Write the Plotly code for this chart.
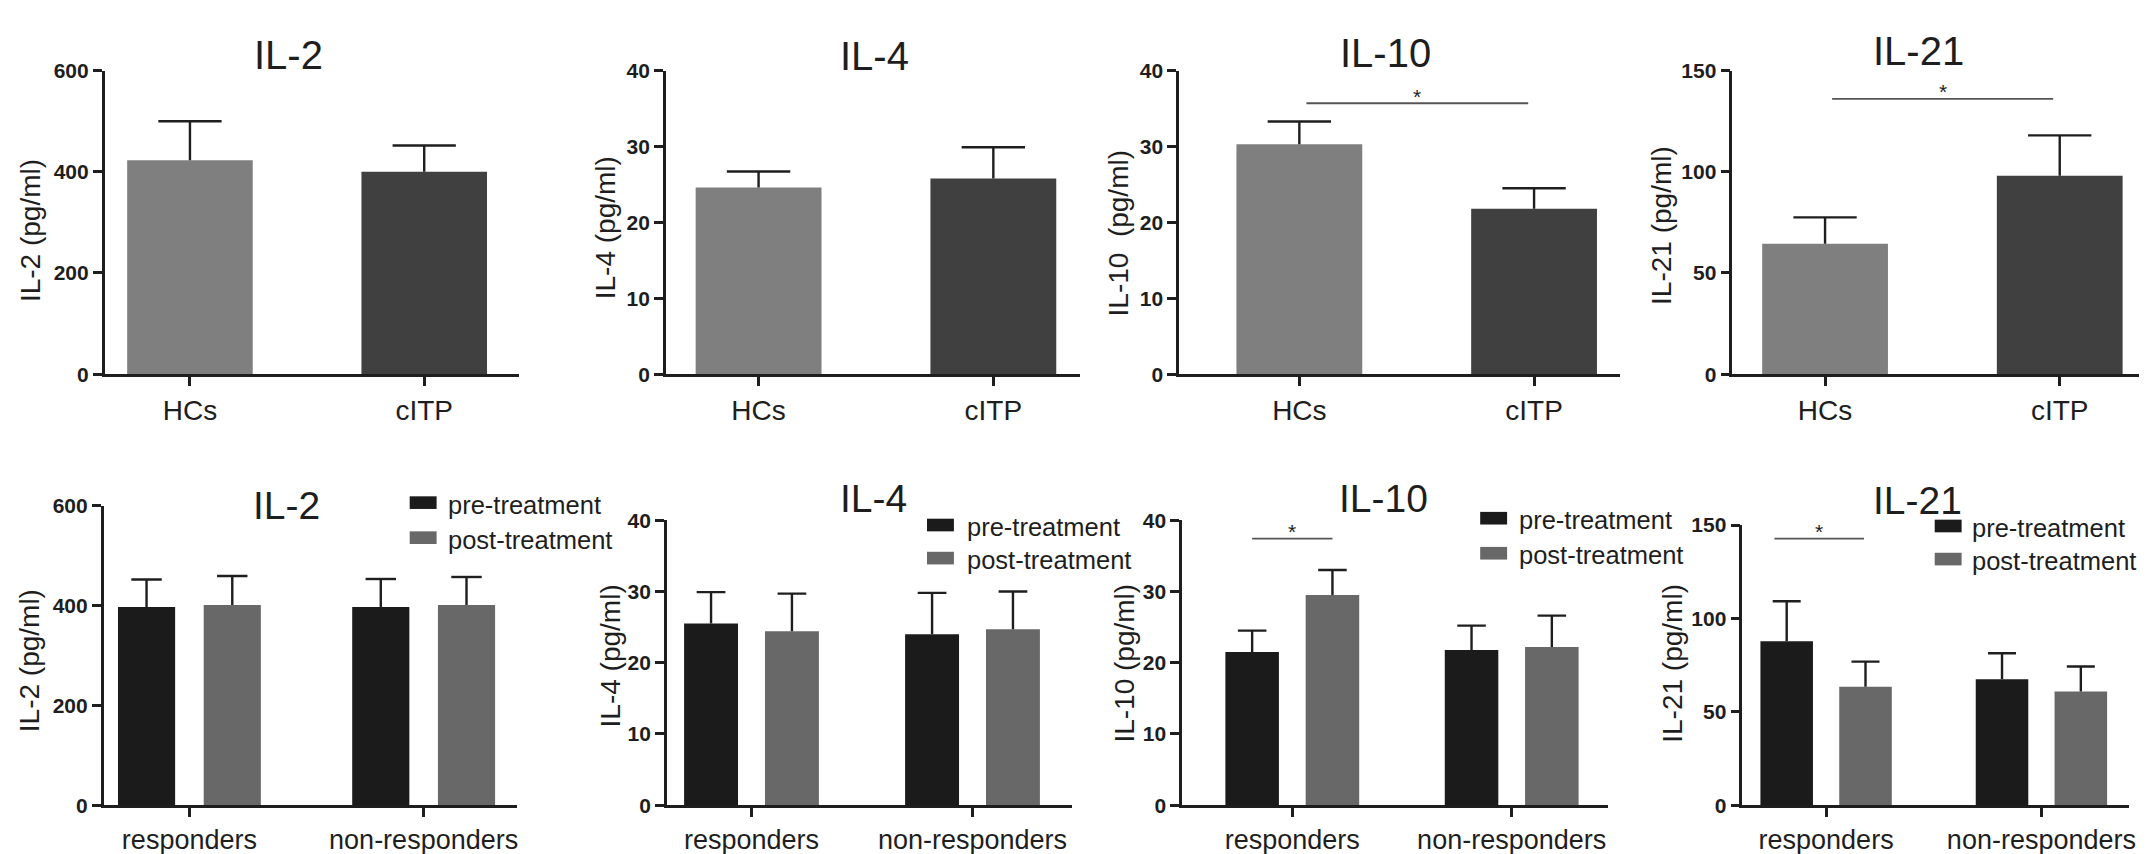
import plotly.graph_objects as go

W, H = 2150, 854

# ---- data ----
groups_top = ["HCs", "cITP"]
il2_top = [423, 400]
il2_top_err = [77, 52]
il4_top = [24.6, 25.8]
il4_top_err = [2.1, 4.1]
il10_top = [30.3, 21.8]
il10_top_err = [3.0, 2.7]
il21_top = [64.5, 98]
il21_top_err = [13, 20]

groups_bottom = ["responders", "non-responders"]
series_bottom = ["pre-treatment", "post-treatment"]
il2_pre = [397, 397]
il2_pre_err = [55, 56]
il2_post = [401, 401]
il2_post_err = [58, 56]
il4_pre = [25.5, 24.0]
il4_pre_err = [4.4, 5.8]
il4_post = [24.4, 24.7]
il4_post_err = [5.3, 5.3]
il10_pre = [21.5, 21.8]
il10_pre_err = [3.0, 3.4]
il10_post = [29.5, 22.2]
il10_post_err = [3.5, 4.4]
il21_pre = [87.8, 67.5]
il21_pre_err = [21.4, 13.9]
il21_post = [63.5, 60.9]
il21_post_err = [13.4, 13.4]

top_colors = ["#7f7f7f", "#404040"]
bottom_colors = ["#1b1b1b", "#686868"]
ink = "#1e1e1e"
FONT = "Liberation Sans, Arial, sans-serif"


def fx(p):
    return p / W


def fy(p):
    return 1 - p / H


# panel layout in pixels: x axis start/end, y of top tick / zero, x range
panels = [
    dict(title="IL-2", ytitle="IL-2 (pg/ml)", ymax=600, dtick=200, px=(97, 513), py=(52, 364),
         xr=(-0.364, 1.406), tpos=(281, 36), ypos=(22, 216),
         bars=[(groups_top, il2_top, il2_top_err, top_colors)]),
    dict(title="IL-4", ytitle="IL-4 (pg/ml)", ymax=40, dtick=10, px=(660, 1075), py=(52, 364),
         xr=(-0.395, 1.367), tpos=(869, 37), ypos=(599, 214),
         bars=[(groups_top, il4_top, il4_top_err, top_colors)]),
    dict(title="IL-10", ytitle="IL-10\u00a0 (pg/ml)", ymax=40, dtick=10, px=(1175, 1617), py=(52, 364),
         xr=(-0.512, 1.365), tpos=(1382, 34), ypos=(1114, 219),
         bars=[(groups_top, il10_top, il10_top_err, top_colors)]),
    dict(title="IL-21", ytitle="IL-21 (pg/ml)", ymax=150, dtick=50, px=(1730, 2138), py=(52, 364),
         xr=(-0.395, 1.338), tpos=(1917, 32), ypos=(1659, 211),
         bars=[(groups_top, il21_top, il21_top_err, top_colors)]),
    dict(title="IL-2", ytitle="IL-2 (pg/ml)", ymax=600, dtick=200, px=(96, 511), py=(499, 807),
         xr=(-0.366, 1.40), tpos=(279, 499), ypos=(21, 658), legend=(403, 439, 496, 532),
         bars=[(groups_bottom, il2_pre, il2_pre_err, bottom_colors[0]),
               (groups_bottom, il2_post, il2_post_err, bottom_colors[1])]),
    dict(title="IL-4", ytitle="IL-4 (pg/ml)", ymax=40, dtick=10, px=(661, 1067), py=(514, 807),
         xr=(-0.383, 1.448), tpos=(868, 492), ypos=(604, 654), legend=(922, 960, 519, 553),
         bars=[(groups_bottom, il4_pre, il4_pre_err, bottom_colors[0]),
               (groups_bottom, il4_post, il4_post_err, bottom_colors[1])]),
    dict(title="IL-10", ytitle="IL-10 (pg/ml)", ymax=40, dtick=10, px=(1178, 1605), py=(514, 807),
         xr=(-0.502, 1.438), tpos=(1380, 492), ypos=(1120, 661), legend=(1477, 1514, 512, 548),
         bars=[(groups_bottom, il10_pre, il10_pre_err, bottom_colors[0]),
               (groups_bottom, il10_post, il10_post_err, bottom_colors[1])]),
    dict(title="IL-21", ytitle="IL-21 (pg/ml)", ymax=150, dtick=50, px=(1740, 2128), py=(519, 807),
         xr=(-0.389, 1.407), tpos=(1916, 494), ypos=(1670, 661), legend=(1933, 1968, 520, 554),
         bars=[(groups_bottom, il21_pre, il21_pre_err, bottom_colors[0]),
               (groups_bottom, il21_post, il21_post_err, bottom_colors[1])]),
]

# significance marks: panel index, x from, x to, line y (data units)
sig_marks = [
    (2, 0.03, 0.975, 35.7),
    (3, 0.03, 0.972, 136),
    (6, -0.183, 0.183, 37.4),
    (7, -0.24, 0.176, 142.7),
]

fig = go.Figure()
layout = dict()
annotations = []
shapes = []

for i, p in enumerate(panels):
    n = i + 1
    xa = "x" if n == 1 else f"x{n}"
    ya = "y" if n == 1 else f"y{n}"
    nb = len(p["bars"])
    top_row = nb == 1
    if top_row:
        width, offsets, cap = 0.536, [-0.268], 0.135
    else:
        width, offsets, cap = 0.244, [-0.183 - 0.122, 0.183 - 0.122], 0.065
    for (cats, vals, errs, col), off in zip(p["bars"], offsets):
        xpos = list(range(len(cats)))
        fig.add_trace(go.Bar(x=xpos, y=vals, width=width, offset=off, marker=dict(color=col, line=dict(width=0)),
                             xaxis=xa, yaxis=ya, showlegend=False, hoverinfo="y"))
        xs, ys = [], []
        for xc, v, e in zip(xpos, vals, errs):
            c = xc + off + width / 2
            xs += [c, c, None, c - cap, c + cap, None]
            ys += [v, v + e, None, v + e, v + e, None]
        fig.add_trace(go.Scatter(x=xs, y=ys, mode="lines", line=dict(color=ink, width=2.4),
                                 xaxis=xa, yaxis=ya, showlegend=False, hoverinfo="skip", cliponaxis=False))
    cats = p["bars"][0][0]
    layout["xaxis" if n == 1 else f"xaxis{n}"] = dict(
        domain=[fx(p["px"][0]), fx(p["px"][1])], anchor=ya, range=list(p["xr"]),
        tickvals=list(range(len(cats))), ticktext=cats, ticks="outside", ticklen=9, tickwidth=2.5,
        tickcolor=ink, showline=True, linecolor=ink, linewidth=2.5, showgrid=False, zeroline=False,
        tickfont=dict(family=FONT, size=28 if top_row else 27, color=ink), fixedrange=True)
    layout["yaxis" if n == 1 else f"yaxis{n}"] = dict(
        domain=[fy(p["py"][1]), fy(p["py"][0])], anchor=xa, range=[0, p["ymax"]],
        tickvals=list(range(0, p["ymax"] + 1, p["dtick"])), ticks="outside", ticklen=9, tickwidth=2.5,
        tickcolor=ink, showline=True, linecolor=ink, linewidth=2.5, showgrid=False, zeroline=False,
        tickfont=dict(family=FONT, size=21, color=ink, weight="bold"), fixedrange=True)
    annotations.append(dict(text=p["title"], x=fx(p["tpos"][0]), y=fy(p["tpos"][1]), xref="paper", yref="paper",
                            showarrow=False, xanchor="center", yanchor="middle",
                            font=dict(family=FONT, size=40 if top_row else 39, color=ink)))
    annotations.append(dict(text=p["ytitle"], x=fx(p["ypos"][0]), y=fy(p["ypos"][1]), xref="paper", yref="paper",
                            showarrow=False, xanchor="center", yanchor="middle", textangle=-90,
                            font=dict(family=FONT, size=28, color=ink)))
    if "legend" in p:
        sx, tx, y1, y2 = p["legend"]
        for name, col, yy in zip(series_bottom, bottom_colors, (y1, y2)):
            shapes.append(dict(type="rect", xref="paper", yref="paper", x0=fx(sx), x1=fx(sx + 27),
                               y0=fy(yy + 6.5), y1=fy(yy - 6.5), fillcolor=col, line=dict(width=0)))
            annotations.append(dict(text=name, x=fx(tx), y=fy(yy + 2), xref="paper", yref="paper", showarrow=False,
                                    xanchor="left", yanchor="middle", font=dict(family=FONT, size=25.5, color=ink)))

for idx, x0, x1, yl in sig_marks:
    n = idx + 1
    xa = "x" if n == 1 else f"x{n}"
    ya = "y" if n == 1 else f"y{n}"
    shapes.append(dict(type="line", xref=xa, yref=ya, x0=x0, x1=x1, y0=yl, y1=yl,
                       line=dict(color="#555555", width=1.8)))
    annotations.append(dict(text="*", x=(x0 + x1) / 2, y=yl, xref=xa, yref=ya, showarrow=False,
                            yanchor="middle", yshift=7, font=dict(family=FONT, size=21, color=ink)))

fig.update_layout(**layout)
fig.update_layout(
    width=W, height=H, margin=dict(l=0, r=0, t=0, b=0),
    plot_bgcolor="white", paper_bgcolor="white", barmode="overlay",
    showlegend=False, annotations=annotations, shapes=shapes,
    font=dict(family=FONT, color=ink),
)

fig.write_html("out.html")
